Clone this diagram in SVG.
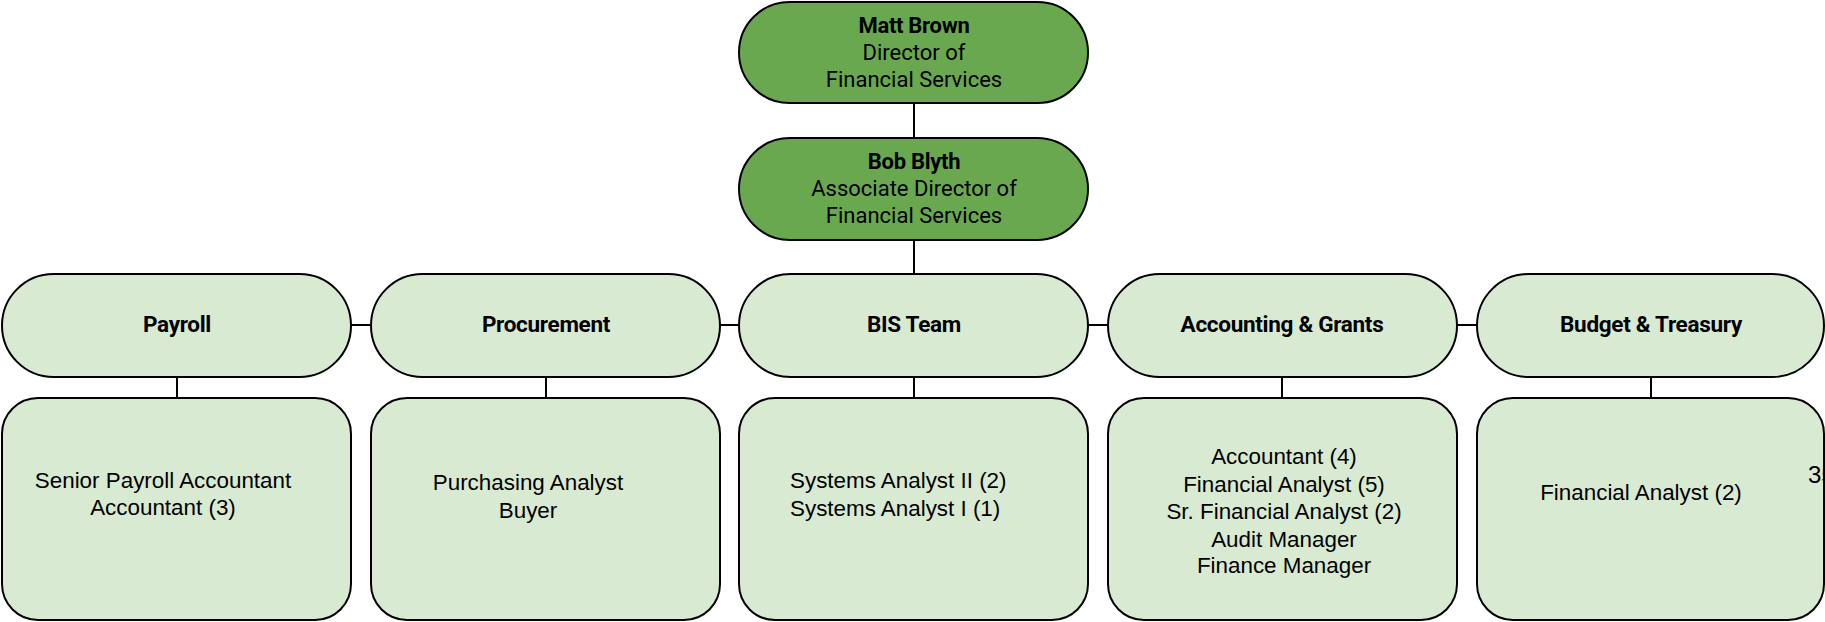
<svg xmlns="http://www.w3.org/2000/svg" width="1825" height="622" viewBox="0 0 1825 622">
<style>
.dark{fill:#6aa84f;stroke:#000;stroke-width:2}
.light{fill:#d9ead3;stroke:#000;stroke-width:2}
.name{font-family:Roboto,"Liberation Sans",sans-serif;font-weight:bold;font-size:22px;fill:#000;text-anchor:middle;letter-spacing:-0.3px}
.title{font-family:Roboto,"Liberation Sans",sans-serif;font-size:22px;fill:#000;text-anchor:middle}
.dept{font-family:Roboto,"Liberation Sans",sans-serif;font-weight:bold;font-size:22.5px;fill:#000;text-anchor:middle;letter-spacing:-0.3px}
.role{font-family:"Liberation Sans",Arial,sans-serif;font-size:22.4px;fill:#000;text-anchor:middle}
.conn line{stroke:#000;stroke-width:2}
</style>
<rect width="1825" height="622" fill="#fff"/>
<g class="conn">
<line x1="914" y1="103" x2="914" y2="138"/>
<line x1="914" y1="240" x2="914" y2="274"/>
<line x1="351" y1="325" x2="371" y2="325"/>
<line x1="720" y1="325" x2="739" y2="325"/>
<line x1="1088" y1="325" x2="1108" y2="325"/>
<line x1="1457" y1="325" x2="1477" y2="325"/>
<line x1="177" y1="377" x2="177" y2="398"/>
<line x1="546" y1="377" x2="546" y2="398"/>
<line x1="914" y1="377" x2="914" y2="398"/>
<line x1="1282" y1="377" x2="1282" y2="398"/>
<line x1="1651" y1="377" x2="1651" y2="398"/>
</g>
<g id="matt">
<rect class="dark" x="739" y="2" width="349" height="101" rx="50.5"/>
<text class="name" x="914" y="33">Matt Brown</text>
<text class="title" x="914" y="60">Director of</text>
<text class="title" x="914" y="87">Financial Services</text>
</g>
<g id="bob">
<rect class="dark" x="739" y="138" width="349" height="102" rx="51"/>
<text class="name" x="914" y="169">Bob Blyth</text>
<text class="title" x="914" y="196">Associate Director of</text>
<text class="title" x="914" y="223">Financial Services</text>
</g>
<g id="payroll">
<rect class="light" x="2" y="274" width="349" height="103" rx="51.5"/>
<text class="dept" x="177" y="332">Payroll</text>
</g>
<g id="procurement">
<rect class="light" x="371" y="274" width="349" height="103" rx="51.5"/>
<text class="dept" x="546" y="332">Procurement</text>
</g>
<g id="bis">
<rect class="light" x="739" y="274" width="349" height="103" rx="51.5"/>
<text class="dept" x="914" y="332">BIS Team</text>
</g>
<g id="accounting">
<rect class="light" x="1108" y="274" width="349" height="103" rx="51.5"/>
<text class="dept" x="1282" y="332">Accounting &amp; Grants</text>
</g>
<g id="budget">
<rect class="light" x="1477" y="274" width="347" height="103" rx="51.5"/>
<text class="dept" x="1651" y="332">Budget &amp; Treasury</text>
</g>
<g id="payroll-staff">
<rect class="light" x="2" y="398" width="349" height="222" rx="36"/>
<text class="role" x="163" y="488">Senior Payroll Accountant</text>
<text class="role" x="163" y="515">Accountant (3)</text>
</g>
<g id="procurement-staff">
<rect class="light" x="371" y="398" width="349" height="222" rx="36"/>
<text class="role" x="528" y="490">Purchasing Analyst</text>
<text class="role" x="528" y="518">Buyer</text>
</g>
<g id="bis-staff">
<rect class="light" x="739" y="398" width="349" height="222" rx="36"/>
<text class="role" x="790" y="488" style="text-anchor:start">Systems Analyst II (2)</text>
<text class="role" x="790" y="516" style="text-anchor:start">Systems Analyst I (1)</text>
</g>
<g id="accounting-staff">
<rect class="light" x="1108" y="398" width="349" height="222" rx="36"/>
<text class="role" x="1284" y="464">Accountant (4)</text>
<text class="role" x="1284" y="492">Financial Analyst (5)</text>
<text class="role" x="1284" y="519">Sr. Financial Analyst (2)</text>
<text class="role" x="1284" y="547">Audit Manager</text>
<text class="role" x="1284" y="573">Finance Manager</text>
</g>
<g id="budget-staff">
<rect class="light" x="1477" y="398" width="347" height="222" rx="36"/>
<text class="role" x="1641" y="500">Financial Analyst (2)</text>
<text class="role" x="1808" y="483" style="text-anchor:start;font-size:24px">35</text>
</g>
</svg>
